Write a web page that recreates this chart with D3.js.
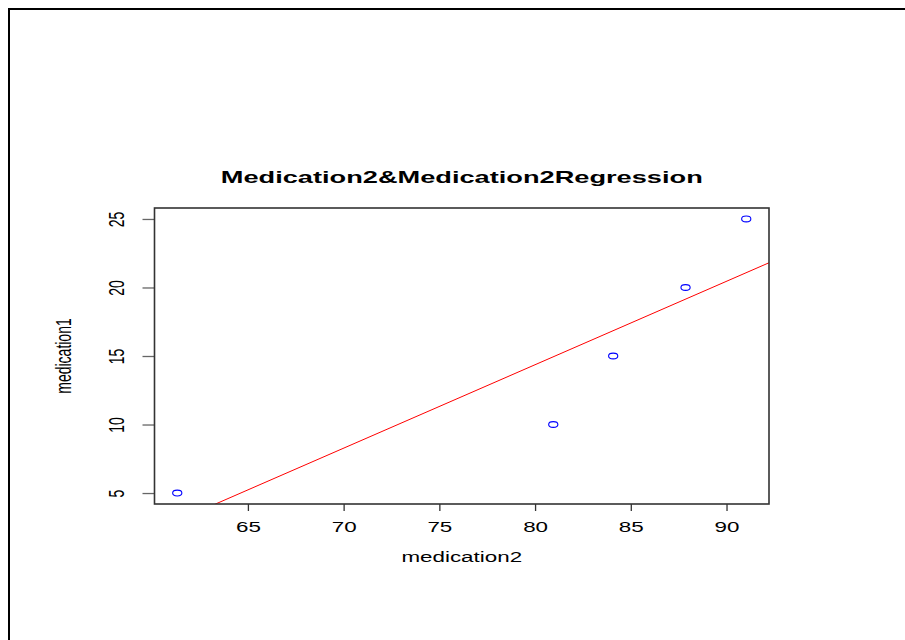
<!DOCTYPE html>
<html>
<head>
<meta charset="utf-8">
<script src="https://cdn.jsdelivr.net/npm/d3@7"></script>
<style>
  html, body { margin: 0; padding: 0; background: #fff; }
  svg { display: block; }
  text { font-family: "Liberation Sans", Arial, sans-serif; fill: #000; }
</style>
</head>
<body>
<svg id="chart" width="905" height="640"></svg>
<script>
// Observations
const medication2 = [61.31, 80.95, 84.08, 87.86, 91.03];
const medication1 = [5, 10, 15, 20, 25];

// Axis ticks
const xTicks = [65, 70, 75, 80, 85, 90];
const yTicks = [5, 10, 15, 20, 25];

const titleText = "Medication2&Medication2Regression";
const xLabel = "medication2";
const yLabel = "medication1";

// The whole graphic is stretched horizontally, so text is widened too
const SX = 1.6;

const svg = d3.select("#chart");

// Outer frame (top and left edges visible)
svg.append("path")
  .attr("d", "M9,640 V9 H905")
  .attr("fill", "none")
  .attr("stroke", "#000")
  .attr("stroke-width", 2);

const box = { left: 154.5, right: 769, top: 208, bottom: 504 };

// R-style 4% padding on the data range
function padded(v) {
  const [lo, hi] = d3.extent(v);
  const p = (hi - lo) * 0.04;
  return [lo - p, hi + p];
}

const x = d3.scaleLinear().domain(padded(medication2)).range([box.left, box.right]);
const y = d3.scaleLinear().domain(padded(medication1)).range([box.bottom, box.top]);

// Least squares fit of medication1 on medication2
const mx = d3.mean(medication2), my = d3.mean(medication1);
let sxy = 0, sxx = 0;
medication2.forEach((v, i) => { sxy += (v - mx) * (medication1[i] - my); sxx += (v - mx) ** 2; });
const slope = sxy / sxx;
const intercept = my - slope * mx;

svg.append("clipPath").attr("id", "plotclip")
  .append("rect")
  .attr("x", box.left).attr("y", box.top)
  .attr("width", box.right - box.left).attr("height", box.bottom - box.top);

const [x0, x1] = x.domain();
svg.append("line")
  .attr("clip-path", "url(#plotclip)")
  .attr("x1", x(x0)).attr("y1", y(intercept + slope * x0))
  .attr("x2", x(x1)).attr("y2", y(intercept + slope * x1))
  .attr("stroke", "#ff0000")
  .attr("stroke-width", 1);

// Points (open circles, widened with the graphic)
svg.append("g").selectAll("ellipse")
  .data(medication2.map((v, i) => [v, medication1[i]]))
  .join("ellipse")
  .attr("cx", d => x(d[0]))
  .attr("cy", d => y(d[1]))
  .attr("rx", 4.6)
  .attr("ry", 2.9)
  .attr("fill", "none")
  .attr("stroke", "#0000ff")
  .attr("stroke-width", 1.1);

// Axes
const xAxis = svg.append("g")
  .attr("transform", `translate(0,${box.bottom})`)
  .call(d3.axisBottom(x).tickValues(xTicks).tickSize(7).tickSizeOuter(0).tickFormat(d3.format("d")));
xAxis.select(".domain").remove();
xAxis.selectAll(".tick line").attr("stroke", "#333").attr("stroke-width", 1.3);
xAxis.selectAll(".tick text")
  .attr("y", 0).attr("dy", null)
  .attr("transform", `translate(0,28) scale(${SX},1)`)
  .attr("font-size", 14)
  .attr("fill", "#000");

const yAxis = svg.append("g")
  .attr("transform", `translate(${box.left},0)`)
  .call(d3.axisLeft(y).tickValues(yTicks).tickSize(12).tickSizeOuter(0).tickFormat(d3.format("d")));
yAxis.select(".domain").remove();
yAxis.selectAll(".tick line").attr("stroke", "#666").attr("stroke-width", 1.3);
yAxis.selectAll(".tick text")
  .attr("x", 0).attr("dy", null)
  .attr("text-anchor", "middle")
  .attr("transform", `translate(-31,0) scale(${SX},1) rotate(-90)`)
  .attr("font-size", 14)
  .attr("fill", "#000");

// Plot box
svg.append("rect")
  .attr("x", box.left).attr("y", box.top)
  .attr("width", box.right - box.left).attr("height", box.bottom - box.top)
  .attr("fill", "none")
  .attr("stroke", "#333")
  .attr("stroke-width", 1.6);

// Title and axis labels
svg.append("text")
  .attr("text-anchor", "middle")
  .attr("transform", `translate(${(box.left + box.right) / 2},183) scale(${SX},1)`)
  .attr("font-size", 17)
  .attr("font-weight", "bold")
  .text(titleText);

svg.append("text")
  .attr("text-anchor", "middle")
  .attr("transform", `translate(${(box.left + box.right) / 2},562) scale(${SX},1)`)
  .attr("font-size", 14)
  .text(xLabel);

svg.append("text")
  .attr("text-anchor", "middle")
  .attr("transform", `translate(71,${(box.top + box.bottom) / 2}) scale(${SX},1) rotate(-90)`)
  .attr("font-size", 14)
  .text(yLabel);
</script>
</body>
</html>
